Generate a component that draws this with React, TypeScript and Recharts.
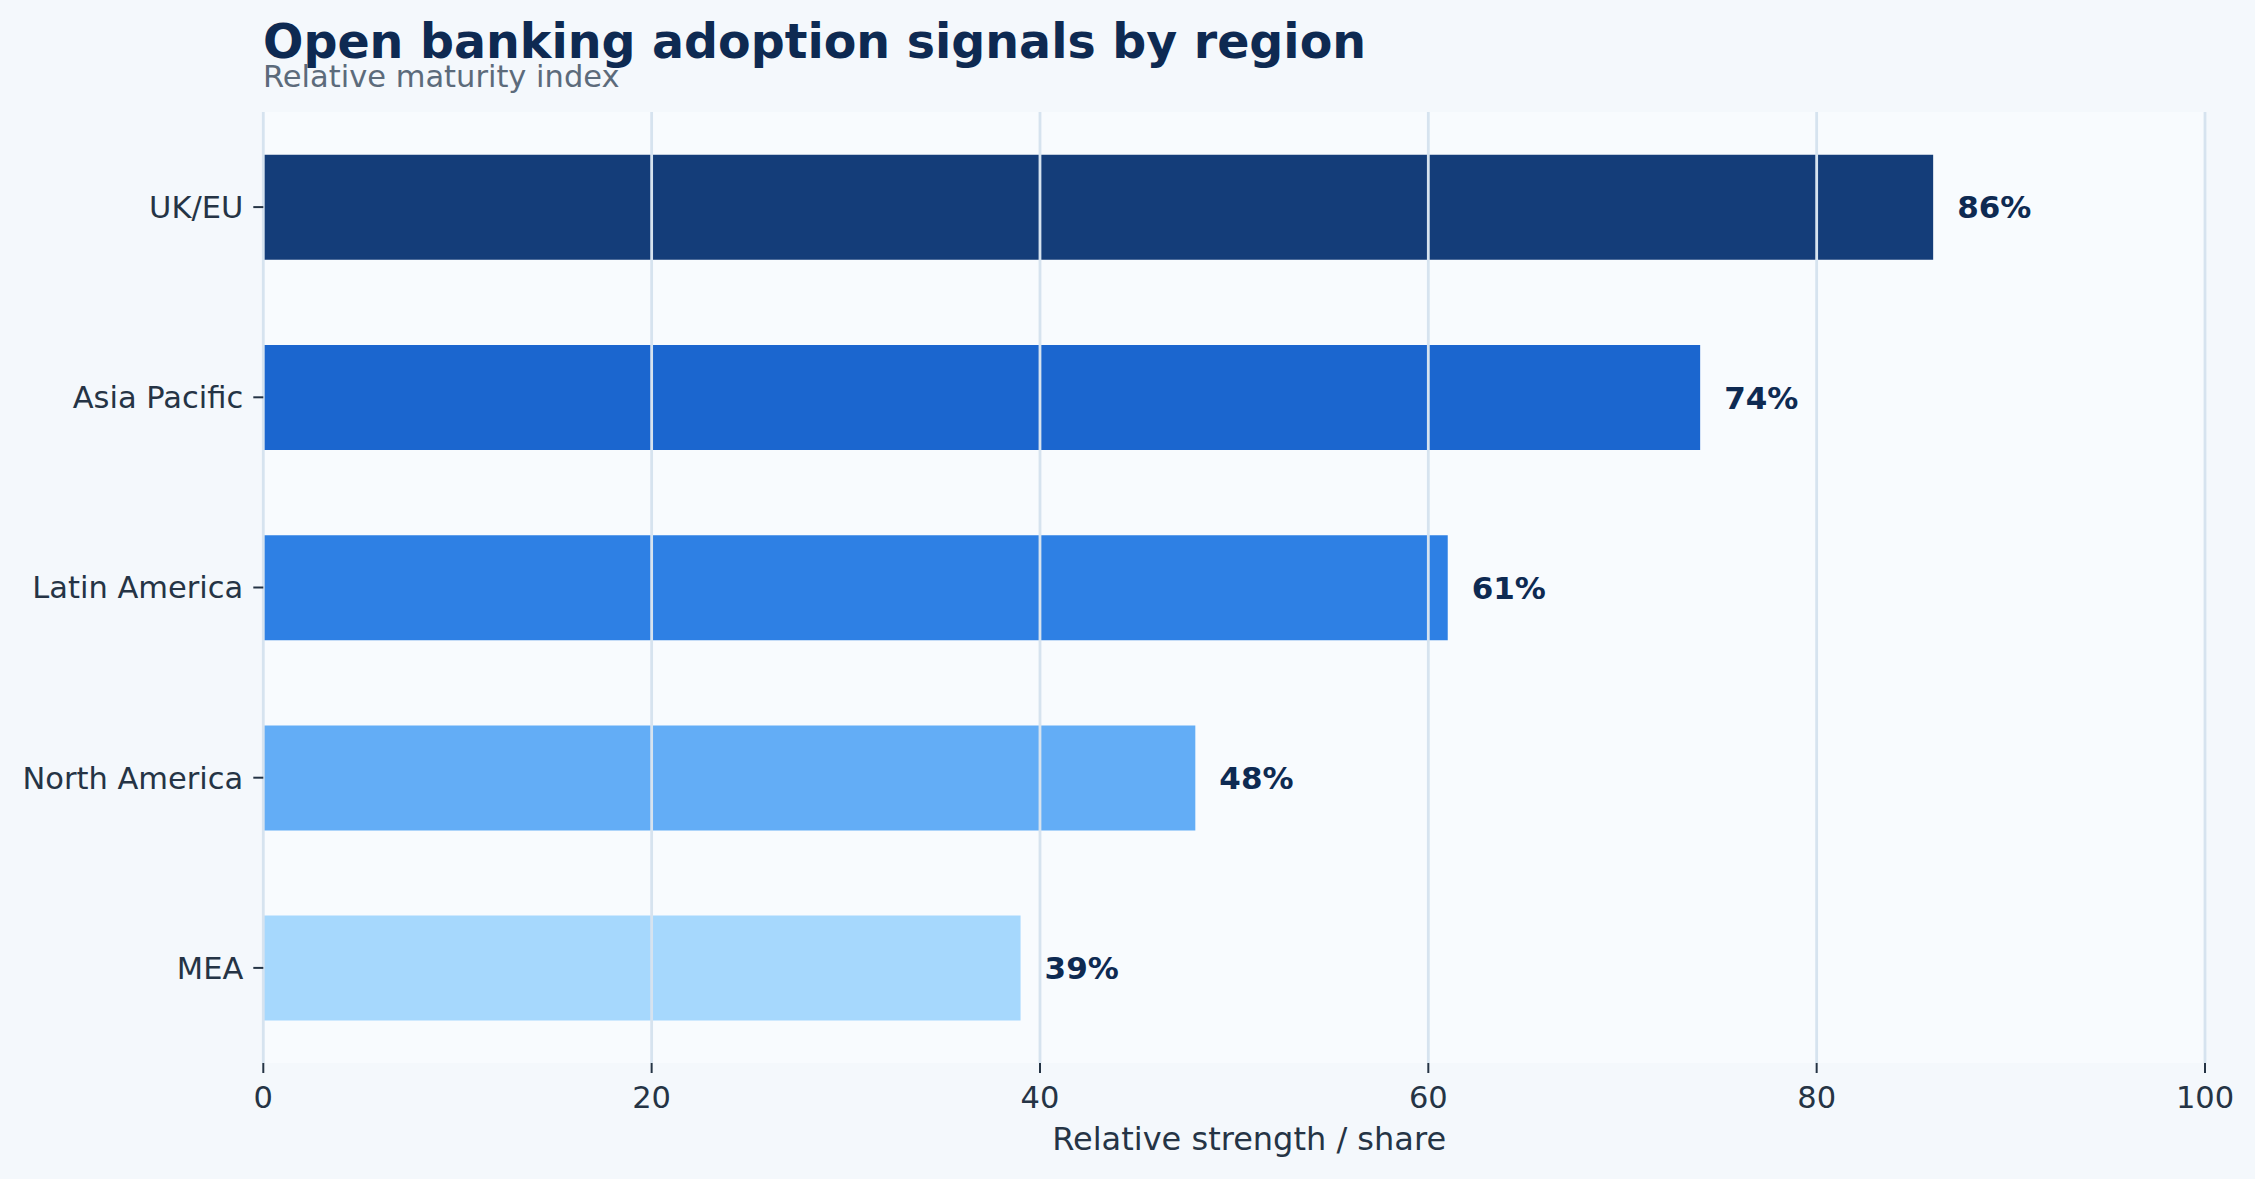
import React from 'react';
import { BarChart, Bar, XAxis, YAxis, CartesianGrid, Cell, LabelList } from 'recharts';

const categories = ['UK/EU', 'Asia Pacific', 'Latin America', 'North America', 'MEA'];
const values = [86, 74, 61, 48, 39];
const barColors = ['#143d79', '#1b66cf', '#2e80e4', '#63adf6', '#a6d8fd'];
const xTicks = [0, 20, 40, 60, 80, 100];

const TITLE = 'Open banking adoption signals by region';
const SUBTITLE = 'Relative maturity index';
const X_LABEL = 'Relative strength / share';

const data = categories.map((name, i) => ({ name, value: values[i] }));

const FONT = "'DejaVu Sans', sans-serif";
const TEXT_DARK = '#253445';
const NAVY = '#0e2a52';

export default function App() {
  return (
    <div style={{ position: 'absolute', left: 0, top: 0, width: 2255, height: 1179, background: '#f4f8fc', fontFamily: FONT }}>
      <BarChart
        width={2255}
        height={1179}
        data={data}
        layout="vertical"
        margin={{ top: 112, right: 50, bottom: 0, left: 0 }}
        barCategoryGap="22.5%"
      >
        <CartesianGrid horizontal={false} vertical={false} fill="#f8fbfe" fillOpacity={1} />
        <XAxis
          type="number"
          domain={[0, 100]}
          ticks={xTicks}
          height={116}
          axisLine={false}
          tickSize={10}
          tickMargin={13.5}
          tickLine={{ stroke: TEXT_DARK, strokeWidth: 2 }}
          tick={{ fill: TEXT_DARK, fontSize: 30.5, fontFamily: FONT }}
          label={{ value: X_LABEL, position: 'insideBottom', offset: 29, dx: 15, fill: TEXT_DARK, fontSize: 32, fontFamily: FONT }}
        />
        <YAxis
          type="category"
          dataKey="name"
          width={263.3}
          axisLine={false}
          tickSize={10}
          tickMargin={10}
          tickLine={{ stroke: TEXT_DARK, strokeWidth: 2 }}
          tick={{ fill: TEXT_DARK, fontSize: 30.5, fontFamily: FONT }}
        />
        <Bar dataKey="value" isAnimationActive={false}>
          {data.map((d, i) => (
            <Cell key={d.name} fill={barColors[i]} />
          ))}
          <LabelList
            dataKey="value"
            position="right"
            offset={24}
            formatter={(v: any) => `${v}%`}
            fill={NAVY}
            fontSize={31}
            fontWeight="bold"
            fontFamily={FONT}
          />
        </Bar>
        <CartesianGrid horizontal={false} stroke="#d6e3ef" strokeWidth={2.8} zIndex={350} />
      </BarChart>
      <svg width={2255} height={120} style={{ position: 'absolute', left: 0, top: 0, pointerEvents: 'none' }}>
        <text x={263} y={58} fontFamily={FONT} fontWeight="bold" fontSize={47.5} fill={NAVY}>{TITLE}</text>
        <text x={263} y={87.3} fontFamily={FONT} fontSize={30.5} fill="#5c6b7b">{SUBTITLE}</text>
      </svg>
    </div>
  );
}
